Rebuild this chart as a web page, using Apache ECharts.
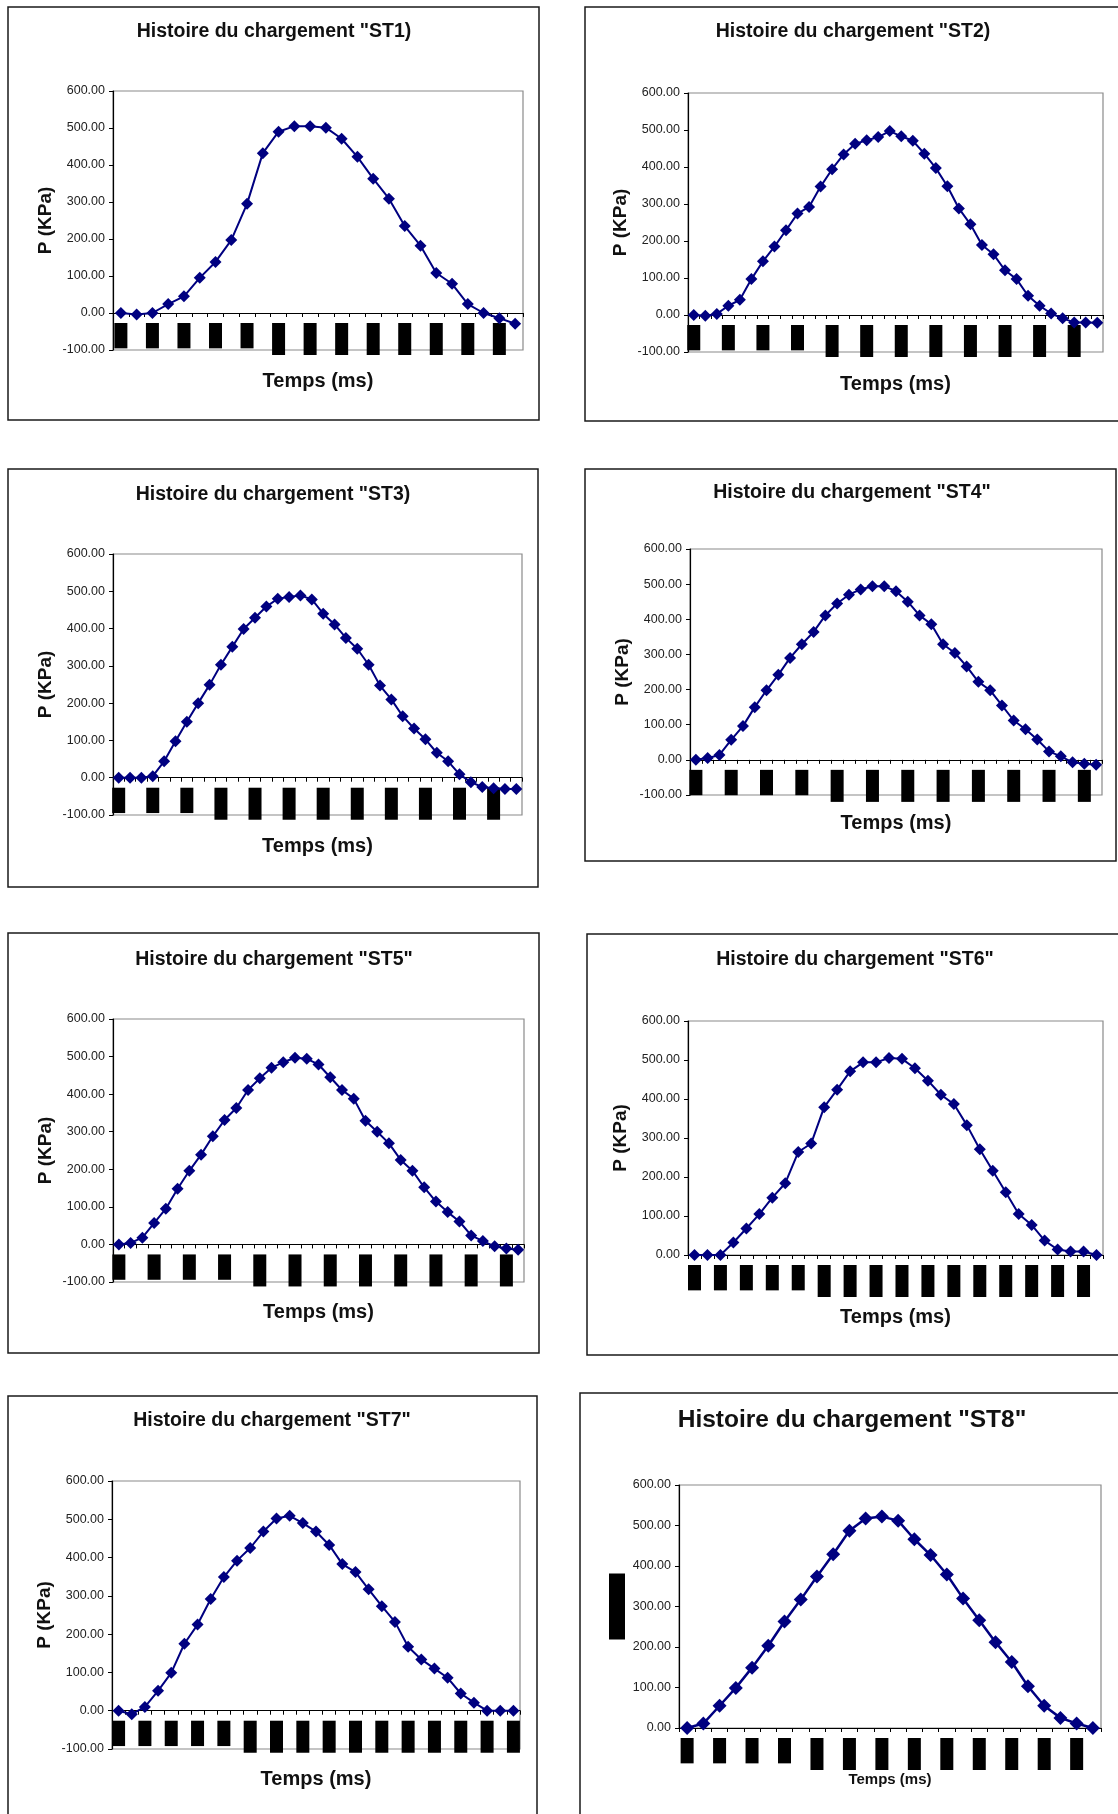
<!DOCTYPE html>
<html><head><meta charset="utf-8">
<script src="https://cdn.jsdelivr.net/npm/echarts/dist/echarts.min.js"></script>
<style>html,body{margin:0;padding:0;background:#fff}#c{width:1118px;height:1814px}</style>
</head><body><div id="c"></div>
<script>
// ---- data ----
const st1Time = [0,1,2,3,4,5,6,7,8,9,10,11,12,13,14,15,16,17,18,19,20,21,22,23,24,25];
const st1P = [0,-4,0,24,45,95,138,197,295,432,490,505,505,501,471,422,363,309,235,182,108,79,24,0,-14,-29];

const st2Time = [0,1,2,3,4,5,6,7,8,9,10,11,12,13,14,15,16,17,18,19,20,21,22,23,24,25,26,27,28,29,30,31,32,33,34,35];
const st2P = [0,-2,3,25,41,97,145,185,229,274,292,347,394,434,463,472,481,497,483,471,436,397,348,288,245,189,164,121,97,52,25,4,-9,-20,-20,-21];

const st3Time = [1,2,3,4,5,6,7,8,9,10,11,12,13,14,15,16,17,18,19,20,21,22,23,24,25,26,27,28,29,30,31,32,33,34,35,36];
const st3P = [0,0,0,4,44,98,150,200,249,303,351,399,429,459,480,485,489,478,440,411,375,346,303,247,210,165,132,103,67,44,9,-12,-25,-28,-30,-30];

const st4Time = [0,1,2,3,4,5,6,7,8,9,10,11,12,13,14,15,16,17,18,19,20,21,22,23,24,25,26,27,28,29,30,31,32,33,34];
const st4P = [0,5,14,57,96,150,198,242,290,329,364,411,445,470,485,494,494,480,450,411,386,329,304,266,222,198,155,112,87,58,24,10,-7,-11,-14];

const st5Time = [0,1,2,3,4,5,6,7,8,9,10,11,12,13,14,15,16,17,18,19,20,21,22,23,24,25,26,27,28,29,30,31,32,33,34];
const st5P = [0,4,18,57,95,148,196,239,288,331,363,411,442,470,485,497,494,479,445,411,388,329,300,269,225,196,152,114,86,61,24,9,-5,-11,-14];

const st6Time = [0,1,2,3,4,5,6,7,8,9,10,11,12,13,14,15,16,17,18,19,20,21,22,23,24,25,26,27,28,29,30,31];
const st6P = [0,0,0,32,68,105,147,184,264,286,379,424,471,494,494,505,503,479,447,411,387,333,271,216,161,105,77,37,14,9,9,0];

const st7Time = [0,1,2,3,4,5,6,7,8,9,10,11,12,13,14,15,16,17,18,19,20,21,22,23,24,25,26,27,28,29,30];
const st7P = [0,-9,10,52,99,175,225,292,349,392,425,468,502,509,490,468,433,383,362,317,273,232,167,134,110,86,45,21,0,0,0];

const st8Time = [2,3,4,5,6,7,8,9,10,11,12,13,14,15,16,17,18,19,20,21,22,23,24,25,26,27];
const st8P = [0,11,55,99,149,203,263,317,374,429,487,517,522,512,466,427,379,320,266,212,163,103,55,25,11,0];

const titles = [
  'Histoire du chargement "ST1)', 'Histoire du chargement "ST2)',
  'Histoire du chargement "ST3)', 'Histoire du chargement "ST4"',
  'Histoire du chargement "ST5"', 'Histoire du chargement "ST6"',
  'Histoire du chargement "ST7"', 'Histoire du chargement "ST8"'
];
const yName = 'P (KPa)';
const xName = 'Temps (ms)';

// ---- layout ----
const FONT = '"Liberation Sans", Arial, Helvetica, sans-serif';
const YMAX = 600;
const panels = [
  {time:st1Time, p:st1P, ymin:-100, li:1, grid:[113,91,410,259], box:[8,7,531,413], t:[274,32], xg:58},
  {time:st2Time, p:st2P, ymin:-100, li:2, grid:[688,93,415,259], box:[585,7,560,414], t:[853,32], xg:59},
  {time:st3Time, p:st3P, ymin:-100, li:2, grid:[113,554,409,261], box:[8,469,530,418], t:[273,495], xg:59},
  {time:st4Time, p:st4P, ymin:-100, li:2, grid:[690,549,412,246], box:[585,469,531,392], t:[852,493], xg:54},
  {time:st5Time, p:st5P, ymin:-100, li:2, grid:[113,1019,411,263], box:[8,933,531,420], t:[274,960], xg:58},
  {time:st6Time, p:st6P, ymin:0, li:1, grid:[688,1021,415,234], box:[587,934,560,421], t:[855,960], xg:52},
  {time:st7Time, p:st7P, ymin:-100, li:1, grid:[112,1481,408,268], box:[8,1396,529,440], t:[272,1421], xg:59},
  {time:st8Time, p:st8P, ymin:0, li:1, grid:[679,1485,422,243], box:[580,1393,560,440], t:[852,1420], xg:44, big:true}
];

const grid = [], xAxis = [], yAxis = [], series = [], graphic = [];
panels.forEach((c, i) => {
  // distance between the zero line and the bottom of the plot
  const off = c.ymin < 0 ? c.grid[3] * (-c.ymin) / (YMAX - c.ymin) : 0;
  grid.push({left:c.grid[0], top:c.grid[1], width:c.grid[2], height:c.grid[3],
    show:true, borderColor:'#8a8a8a', borderWidth:1.2, backgroundColor:'#fff'});
  xAxis.push({
    type:'category', gridIndex:i, data:c.time.map(String), boundaryGap:true,
    name:xName, nameLocation:'middle', nameGap:c.xg - off, nameMoveOverlap:false,
    nameTextStyle:{fontFamily:FONT, fontWeight:'bold', fontSize:c.big?15:20, color:'#111'},
    axisLine:{onZero:true, lineStyle:{color:'#000', width:1.2}},
    axisTick:{show:true, interval:0, length:4, lineStyle:{color:'#000'}},
    axisLabel:{interval:c.li, rotate:90, margin:10 - off, fontSize:12, fontFamily:FONT,
      color:'#000', backgroundColor:'#000', lineHeight:13, padding:[0,1], hideOverlap:false,
      formatter:v => Number(v).toFixed(2)},
    splitLine:{show:false}
  });
  yAxis.push({
    type:'value', gridIndex:i, min:c.ymin, max:YMAX, interval:100,
    name:yName, nameLocation:'middle', nameRotate:90, nameGap:c.big?54:58,
    nameTextStyle: c.big
      ? {fontFamily:FONT, fontWeight:'bold', fontSize:14, color:'#000', backgroundColor:'#000', padding:[0,8], lineHeight:16}
      : {fontFamily:FONT, fontWeight:'bold', fontSize:19, color:'#111'},
    axisLine:{show:true, lineStyle:{color:'#000', width:1.2}},
    axisTick:{show:true, length:4, lineStyle:{color:'#000'}},
    axisLabel:{margin:8, fontSize:12.5, fontFamily:FONT, color:'#222',
      formatter:v => v.toFixed(2)},
    splitLine:{show:false}
  });
  series.push({
    type:'line', xAxisIndex:i, yAxisIndex:i, data:c.p,
    symbol:'diamond', symbolSize:c.big?14:12, showSymbol:true, showAllSymbol:true,
    lineStyle:{color:'#000080', width:c.big?2.5:2},
    itemStyle:{color:'#000080', borderWidth:0},
    animation:false, clip:false
  });
  graphic.push({type:'rect', silent:true, z:-10,
    shape:{x:c.box[0], y:c.box[1], width:c.box[2], height:c.box[3]},
    style:{fill:'#fff', stroke:'#1a1a1a', lineWidth:1.5}});
  graphic.push({type:'text', silent:true, x:c.t[0], y:c.t[1],
    style:{text:titles[i], fill:'#111', font:'bold '+(c.big?24.5:19.5)+'px '+FONT,
      textAlign:'center', textVerticalAlign:'middle'}});
});

const chart = echarts.init(document.getElementById('c'), null, {renderer:'canvas'});
chart.setOption({
  backgroundColor:'#fff', animation:false,
  grid, xAxis, yAxis, series, graphic
});
</script>
</body></html>
